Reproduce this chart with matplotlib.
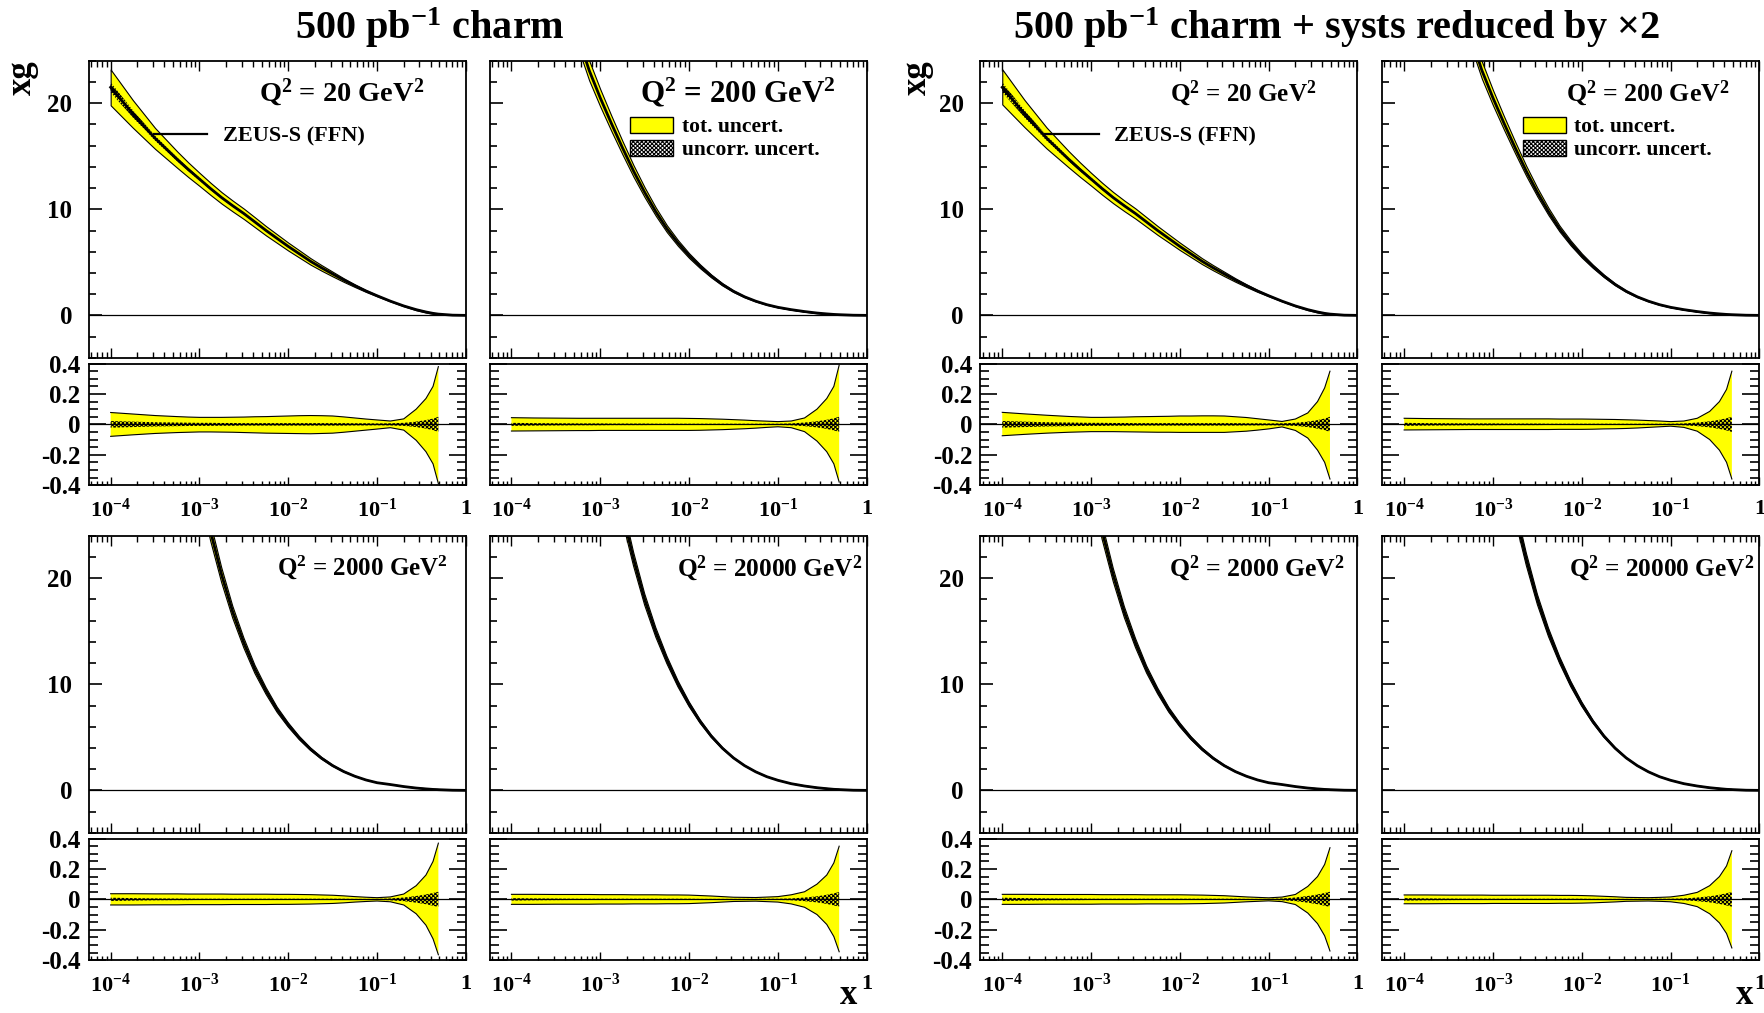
import numpy as np
import matplotlib
matplotlib.use("Agg")
import matplotlib.pyplot as plt
from matplotlib.patches import Patch
from matplotlib.lines import Line2D
from matplotlib.ticker import LogLocator, MultipleLocator, NullFormatter

plt.rcParams.update({
    "font.family": ["Liberation Serif", "DejaVu Serif"],
    "font.weight": "bold",
    "mathtext.fontset": "custom",
    "mathtext.rm": "Liberation Serif:bold",
    "mathtext.bf": "Liberation Serif:bold",
    "mathtext.it": "Liberation Serif:bold",
    "mathtext.default": "rm",
    "axes.unicode_minus": False,
    "hatch.linewidth": 0.8,
})

# ---------------- data ----------------
log_x = [-4, -3.75, -3.5, -3.25, -3.125, -3, -2.875, -2.75, -2.625, -2.5, -2.375, -2.25, -2.125, -2,
         -1.875, -1.75, -1.625, -1.5, -1.375, -1.25, -1.125, -1, -0.85, -0.7, -0.56, -0.45, -0.37, -0.31]
log_x_tail = [-0.15, 0.0]

q2_values = ["20", "200", "2000", "20000"]

xg_q20 = [21.5, 19.0, 16.7, 14.7, 13.75, 12.85, 11.95, 11.1, 10.33, 9.6, 8.8, 8.0, 7.25, 6.5,
          5.8, 5.1, 4.48, 3.9, 3.33, 2.8, 2.3, 1.85, 1.34, 0.89, 0.54, 0.32, 0.19, 0.12]
xg_q200 = [52.5, 42.0, 33.5, 26.3, 23.1, 20.5, 18.1, 15.8, 13.6, 11.6, 9.78, 8.17, 6.82, 5.64,
           4.62, 3.71, 2.92, 2.27, 1.75, 1.34, 1.01, 0.76, 0.54, 0.36, 0.22, 0.14, 0.09, 0.065]
xg_q2000 = [121.0, 86.0, 60.0, 42.0, 35.2, 29.4, 24.4, 20.3, 16.8, 13.9, 11.4, 9.37, 7.6, 6.17,
            4.93, 3.89, 3.03, 2.33, 1.77, 1.33, 0.98, 0.72, 0.55, 0.36, 0.22, 0.14, 0.09, 0.065]
xg_q20000 = [156.0, 110.0, 77.0, 54.0, 45.0, 37.7, 31.5, 26.2, 21.8, 18.0, 14.9, 12.3, 10.05, 8.13,
             6.49, 5.11, 3.98, 3.06, 2.33, 1.75, 1.29, 0.95, 0.63, 0.41, 0.25, 0.16, 0.10, 0.075]
xg_tail_q20 = [0.02, 0.0]
xg_tail_q200 = [0.015, 0.0]
xg_tail_q2000 = [0.015, 0.0]
xg_tail_q20000 = [0.015, 0.0]

# uncorrelated relative uncertainty (same in both scenarios)
unc_q20 = [.022, .018, .014, .012, .011, .010, .010, .009, .009, .008, .008, .008, .008, .008,
           .008, .008, .008, .008, .008, .007, .007, .006, .007, .010, .018, .028, .038, .050]
unc_q200 = [.010, .008, .007, .006, .006, .006, .005, .005, .005, .005, .004, .004, .004, .004,
            .004, .004, .004, .004, .004, .004, .004, .004, .006, .012, .020, .030, .040, .050]
unc_q2000 = [.011, .008, .006, .005, .005, .004, .004, .004, .004, .004, .004, .004, .004, .004,
             .004, .004, .004, .004, .004, .003, .003, .003, .006, .012, .022, .032, .042, .050]
unc_q20000 = [.008, .006, .005, .004, .004, .004, .004, .004, .004, .004, .004, .004, .004, .004,
              .003, .003, .003, .003, .003, .003, .004, .004, .006, .012, .020, .030, .040, .048]

# total relative uncertainty, 500 pb^-1 charm
tot_up_q20 = [.078, .068, .058, .051, .048, .046, .046, .046, .047, .048, .050, .051, .053, .055,
              .057, .058, .057, .055, .049, .042, .035, .029, .022, .036, .100, .170, .250, .380]
tot_dn_q20 = [-.079, -.069, -.060, -.054, -.052, -.050, -.050, -.051, -.052, -.054, -.056, -.058, -.059, -.060,
              -.061, -.062, -.060, -.058, -.052, -.045, -.038, -.031, -.022, -.038, -.105, -.180, -.260, -.390]
tot_up_q200 = [.044, .042, .041, .040, .040, .040, .040, .040, .040, .040, .040, .040, .040, .039,
               .038, .036, .034, .031, .028, .024, .021, .018, .022, .042, .100, .170, .250, .390]
tot_dn_q200 = [-.044, -.043, -.042, -.041, -.041, -.040, -.040, -.040, -.040, -.040, -.040, -.040, -.040, -.040,
               -.039, -.037, -.035, -.032, -.029, -.025, -.020, -.016, -.022, -.048, -.110, -.180, -.260, -.380]
tot_up_q2000 = [.037, .037, .036, .036, .035, .035, .035, .035, .034, .034, .034, .034, .033, .033,
                .032, .031, .029, .027, .023, .018, .014, .011, .016, .035, .090, .160, .250, .370]
tot_dn_q2000 = [-.037, -.037, -.036, -.036, -.035, -.035, -.035, -.035, -.034, -.034, -.034, -.034, -.033, -.033,
                -.032, -.031, -.029, -.027, -.023, -.018, -.014, -.011, -.016, -.037, -.095, -.170, -.260, -.365]
tot_up_q20000 = [.033, .033, .032, .032, .032, .031, .031, .031, .030, .030, .030, .029, .029, .028,
                 .025, .022, .018, .014, .013, .012, .015, .018, .030, .050, .100, .160, .240, .350]
tot_dn_q20000 = [-.033, -.033, -.032, -.032, -.032, -.031, -.031, -.031, -.030, -.030, -.030, -.029, -.029, -.028,
                 -.025, -.022, -.018, -.014, -.013, -.012, -.015, -.018, -.030, -.052, -.100, -.165, -.245, -.345]

# total relative uncertainty, systematics reduced by x2
red_up_q20 = [.079, .069, .060, .052, .049, .046, .046, .047, .048, .050, .051, .052, .053, .055,
              .055, .056, .056, .055, .050, .045, .037, .029, .019, .035, .075, .150, .240, .350]
red_dn_q20 = [-.075, -.066, -.058, -.052, -.050, -.048, -.048, -.048, -.049, -.050, -.051, -.052, -.052, -.053,
              -.053, -.053, -.053, -.053, -.049, -.045, -.038, -.030, -.017, -.040, -.090, -.170, -.250, -.360]
red_up_q200 = [.040, .038, .037, .036, .036, .036, .036, .036, .036, .036, .036, .035, .035, .035,
               .034, .033, .032, .030, .028, .025, .022, .018, .022, .040, .085, .150, .230, .350]
red_dn_q200 = [-.037, -.036, -.035, -.034, -.034, -.034, -.034, -.034, -.034, -.034, -.034, -.033, -.033, -.033,
               -.032, -.030, -.029, -.027, -.024, -.020, -.016, -.012, -.020, -.045, -.100, -.170, -.250, -.360]
red_up_q2000 = [.033, .033, .032, .032, .032, .032, .031, .031, .031, .031, .030, .030, .030, .030,
                .029, .028, .026, .024, .020, .016, .013, .010, .015, .032, .085, .150, .230, .340]
red_dn_q2000 = [-.033, -.033, -.032, -.032, -.032, -.032, -.031, -.031, -.031, -.031, -.030, -.030, -.030, -.030,
                -.029, -.028, -.026, -.024, -.020, -.016, -.013, -.010, -.015, -.034, -.090, -.160, -.240, -.340]
red_up_q20000 = [.029, .029, .028, .028, .028, .027, .027, .027, .027, .027, .027, .026, .026, .025,
                 .023, .020, .017, .013, .012, .011, .013, .016, .027, .046, .090, .150, .220, .320]
red_dn_q20000 = [-.029, -.029, -.028, -.028, -.028, -.027, -.027, -.027, -.027, -.027, -.027, -.026, -.026, -.025,
                 -.023, -.020, -.017, -.013, -.012, -.011, -.013, -.016, -.027, -.048, -.095, -.155, -.225, -.320]

x_tick_values = [1e-4, 1e-3, 1e-2, 1e-1, 1]
x_tick_labels = [r"$10^{-4}$", r"$10^{-3}$", r"$10^{-2}$", r"$10^{-1}$", "1"]
main_y_ticks = [0, 10, 20]
main_y_labels = ["0", "10", "20"]
ratio_y_ticks = [-0.4, -0.2, 0, 0.2, 0.4]
ratio_y_labels = ["-0.4", "-0.2", "0", "0.2", "0.4"]

titles = [r"500 pb$^{-1}$ charm", r"500 pb$^{-1}$ charm + systs reduced by ×2"]

central = [xg_q20, xg_q200, xg_q2000, xg_q20000]
central_tail = [xg_tail_q20, xg_tail_q200, xg_tail_q2000, xg_tail_q20000]
uncorr = [unc_q20, unc_q200, unc_q2000, unc_q20000]
total = [
    [(tot_up_q20, tot_dn_q20), (tot_up_q200, tot_dn_q200), (tot_up_q2000, tot_dn_q2000), (tot_up_q20000, tot_dn_q20000)],
    [(red_up_q20, red_dn_q20), (red_up_q200, red_dn_q200), (red_up_q2000, red_dn_q2000), (red_up_q20000, red_dn_q20000)],
]

# ---------------- layout ----------------
W, H = 1765, 1013
fig = plt.figure(figsize=(W / 100, H / 100), dpi=100)

col_left = [88.9, 489.7, 980.5, 1382.4]
col_w = 377.0
main_top = [60.8, 535.8]
main_h = 297.0
ratio_top = [363.6, 838.6]
ratio_h = 121.5

YELLOW = "#ffff00"
HATCH = "xxxxxxxx"
x = 10.0 ** np.array(log_x)
x_full = 10.0 ** np.array(log_x + log_x_tail)
XMIN = 10 ** -4.245

# Q2 label: right edge (axes fraction) and font size per panel
q2_right = [[0.890, 0.919, 0.952, 0.988], [0.891, 0.922, 0.966, 0.985]]
q2_fs = [[20.4, 22.3, 18.0, 18.2], [18.1, 18.6, 18.5, 18.2]]


def style_x(ax, labels):
    ax.set_xscale("log")
    ax.set_xlim(XMIN, 1)
    ax.set_xticks(x_tick_values)
    ax.xaxis.set_minor_locator(LogLocator(base=10, subs=np.arange(2, 10), numticks=30))
    ax.xaxis.set_minor_formatter(NullFormatter())
    if labels:
        ax.set_xticklabels(x_tick_labels)
    else:
        ax.set_xticklabels([""] * len(x_tick_values))


for h in range(2):
    for r in range(2):
        for c in range(2):
            qi = 2 * r + c
            col = 2 * h + c
            cen = np.array(central[qi])
            cen_full = np.array(central[qi] + central_tail[qi])
            up = np.array(total[h][qi][0])
            dn = np.array(total[h][qi][1])
            un = np.array(uncorr[qi])

            # ---------- main panel ----------
            axm = fig.add_axes([col_left[col] / W, 1 - (main_top[r] + main_h) / H, col_w / W, main_h / H])
            axm.fill_between(x, cen * (1 + dn), cen * (1 + up), facecolor=YELLOW,
                             edgecolor="black", linewidth=0.8, zorder=2)
            axm.fill_between(x, cen * (1 - un), cen * (1 + un), facecolor="none",
                             edgecolor="black", hatch=HATCH, linewidth=0, zorder=3)
            axm.plot(x_full, cen_full, color="black", lw=2.0, zorder=4)
            axm.axhline(0, color="black", lw=0.9, zorder=1)
            style_x(axm, False)
            axm.set_ylim(-4, 24)
            axm.set_yticks(main_y_ticks)
            axm.yaxis.set_minor_locator(MultipleLocator(2))
            axm.tick_params(axis="x", which="major", direction="in", length=7, width=1, top=True, bottom=True)
            axm.tick_params(axis="x", which="minor", direction="in", length=4, width=1, top=True, bottom=True)
            axm.tick_params(axis="y", which="major", direction="in", length=9.5, width=1.2, pad=12, labelsize=18)
            axm.tick_params(axis="y", which="minor", direction="in", length=4.8, width=1.2)
            if c == 0:
                axm.set_yticklabels(main_y_labels)
            else:
                axm.set_yticklabels([""] * len(main_y_ticks))
            for s in axm.spines.values():
                s.set_linewidth(1.3)
            axm.text(q2_right[h][qi], 0.893, r"Q$^{2}$ = " + q2_values[qi] + r" GeV$^{2}$",
                     transform=axm.transAxes, fontsize=q2_fs[h][qi], ha="right", va="center")
            if qi == 0:
                axm.legend(handles=[Line2D([0], [0], color="black", lw=1.6)], labels=["ZEUS-S (FFN)"],
                           loc="center left", bbox_to_anchor=(0.172, 0.745), frameon=False,
                           borderpad=0, borderaxespad=0, handlelength=2.4, handletextpad=0.7,
                           prop={"size": 16, "weight": "bold"})
            if qi == 1:
                hs = [Patch(facecolor=YELLOW, edgecolor="black", lw=1.0),
                      Patch(facecolor="white", edgecolor="black", hatch=HATCH, lw=1.0)]
                axm.legend(handles=hs, labels=["tot. uncert.", "uncorr. uncert."],
                           loc="upper left", bbox_to_anchor=(0.372, 0.812), frameon=False,
                           borderpad=0, borderaxespad=0, handlelength=2.0, handleheight=0.8,
                           handletextpad=0.4, labelspacing=0.1,
                           prop={"size": 15.5, "weight": "bold"})

            # ---------- ratio panel ----------
            axr = fig.add_axes([col_left[col] / W, 1 - (ratio_top[r] + ratio_h) / H, col_w / W, ratio_h / H])
            axr.fill_between(x, dn, up, facecolor=YELLOW, edgecolor="none", linewidth=0, zorder=2)
            axr.plot(x, up, color="black", lw=0.8, zorder=3)
            axr.plot(x, dn, color="black", lw=0.8, zorder=3)
            axr.fill_between(x, -un, un, facecolor="none", edgecolor="black", hatch=HATCH,
                             linewidth=0, zorder=4)
            axr.axhline(0, color="black", lw=0.9, zorder=5)
            style_x(axr, True)
            axr.set_ylim(-0.4, 0.4)
            axr.set_yticks(ratio_y_ticks)
            axr.yaxis.set_minor_locator(MultipleLocator(0.05))
            axr.tick_params(axis="x", which="major", direction="in", length=6, width=1, pad=10, labelsize=16)
            axr.tick_params(axis="x", which="minor", direction="in", length=3, width=1)
            axr.tick_params(axis="y", which="major", direction="in", length=12, width=1.2, pad=6,
                            labelsize=18, left=True, right=True)
            axr.tick_params(axis="y", which="minor", direction="in", length=6.5, width=1.2,
                            left=True, right=True)
            if c == 0:
                axr.set_yticklabels(ratio_y_labels)
            else:
                axr.set_yticklabels([""] * len(ratio_y_ticks))
            for s in axr.spines.values():
                s.set_linewidth(1.3)

    # titles and axis labels
    fig.text([430 / W, 1336 / W][h], 1 - 28 / H, titles[h], fontsize=29, ha="center", va="center")
    fig.text([22.5 / W, 917 / W][h], 1 - 78 / H, "xg", fontsize=25, rotation=90, ha="center", va="center")
    fig.text([849 / W, 1745 / W][h], 1 / H, "x", fontsize=25, ha="center", va="bottom")

fig.savefig("out.png", dpi=100)
